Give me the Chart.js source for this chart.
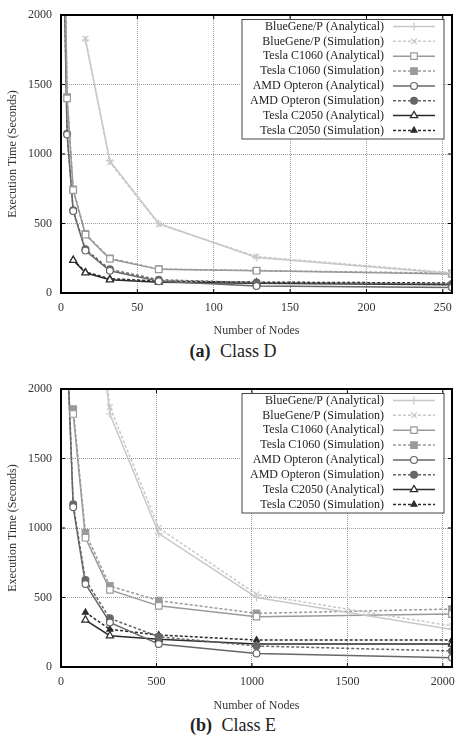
<!DOCTYPE html>
<html>
<head>
<meta charset="utf-8">
<title>Execution Time vs Number of Nodes</title>
<script src="https://cdn.jsdelivr.net/npm/chart.js"></script>
<style>
	body {
		margin: 0;
		padding: 0;
		background: #fff;
		width: 459px;
		height: 735px;
		position: relative;
		overflow: hidden;
		font-family: "Liberation Serif", serif;
	}
	.plot { position: absolute; left: 0; width: 459px; }
	#boxD { top: 0; height: 340px; }
	#boxE { top: 370px; height: 345px; }
	.caption {
		position: absolute;
		left: 0;
		width: 466px;
		text-align: center;
		font-size: 18px;
		line-height: 20px;
		color: #222;
	}
	.caption b { margin-right: 5px; }
	#capD { top: 341px; }
	#capE { top: 715px; }
</style>
</head>
<body>
	<div class="plot" id="boxD"><canvas id="chartD"></canvas></div>
	<div class="caption" id="capD"><b>(a)</b> Class D</div>
	<div class="plot" id="boxE"><canvas id="chartE"></canvas></div>
	<div class="caption" id="capE"><b>(b)</b> Class E</div>

<script>
// ---- data ----
// Class D
var nodesD     = [2, 4, 8, 16, 32, 64, 128, 256];
var bgAnaD     = [null, null, null, 1820, 950, 500, 255, 140];
var bgSimD     = [null, null, null, 1830, 940, 495, 262, 146];
var c1060AnaD  = [2800, 1400, 740, 420, 245, 170, 160, 137];
var c1060SimD  = [2820, 1410, 745, 425, 250, 172, 162, 142];
var amdAnaD    = [2280, 1140, 590, 305, 160, 85, 50, 40];
var amdSimD    = [2290, 1145, 595, 315, 170, 95, 75, 65];
var c2050AnaD  = [null, null, 235, 145, 95, 78, 70, 60];
var c2050SimD  = [null, null, 240, 152, 103, 85, 78, 72];
var xTicksD    = [0, 50, 100, 150, 200, 250];

// Class E
var nodesE     = [32, 64, 128, 256, 512, 1024, 2048];
var bgAnaE     = [null, null, 3300, 1820, 960, 500, 270];
var bgSimE     = [null, null, 3400, 1870, 1000, 523, 295];
var c1060AnaE  = [null, 1820, 930, 555, 440, 362, 381];
var c1060SimE  = [null, 1855, 965, 583, 477, 386, 417];
var amdAnaE    = [2300, 1150, 597, 320, 165, 98, 67];
var amdSimE    = [2340, 1170, 626, 350, 218, 151, 115];
var c2050AnaE  = [null, null, 338, 225, 199, 165, 165];
var c2050SimE  = [null, null, 393, 271, 230, 194, 194];
var xTicksE    = [0, 500, 1000, 1500, 2000];

var yTicks = [0, 500, 1000, 1500, 2000];

var seriesNames = [
	'BlueGene/P (Analytical)', 'BlueGene/P (Simulation)',
	'Tesla C1060 (Analytical)', 'Tesla C1060 (Simulation)',
	'AMD Opteron (Analytical)', 'AMD Opteron (Simulation)',
	'Tesla C2050 (Analytical)', 'Tesla C2050 (Simulation)'
];
var yTitle = 'Execution Time (Seconds)';
var xTitle = 'Number of Nodes';

// ---- styles ----
var styles = [
	{ color: '#c8c8c8', dash: [],     shape: 'cross',    r: 4,   fill: '#c8c8c8' },
	{ color: '#c8c8c8', dash: [3, 2], shape: 'crossRot', r: 4,   fill: '#c8c8c8' },
	{ color: '#9a9a9a', dash: [],     shape: 'rect',     r: 4.6, fill: '#fff' },
	{ color: '#9a9a9a', dash: [3, 2], shape: 'rect',     r: 4.6, fill: '#9a9a9a' },
	{ color: '#676767', dash: [],     shape: 'circle',   r: 3.4, fill: '#fff' },
	{ color: '#676767', dash: [3, 2], shape: 'circle',   r: 3.4, fill: '#676767' },
	{ color: '#2a2a2a', dash: [],     shape: 'triangle', r: 4.2, fill: '#fff' },
	{ color: '#2a2a2a', dash: [3, 2], shape: 'triangle', r: 3.4, fill: '#2a2a2a' }
];

var FONT = '"Liberation Serif", "Times New Roman", serif';

function buildDatasets(nodes, lists) {
	return lists.map(function(vals, i) {
		var s = styles[i];
		return {
			label: seriesNames[i],
			data: nodes.map(function(n, k) { return { x: n, y: vals[k] }; }),
			borderColor: s.color,
			borderWidth: 1.5,
			borderDash: s.dash,
			pointStyle: s.shape,
			pointRadius: s.r,
			pointBorderWidth: 1.2,
			pointBorderColor: s.color,
			pointBackgroundColor: s.fill,
			spanGaps: false,
			tension: 0
		};
	});
}

// frame, inward ticks and the boxed legend inside the plot
var frameLegend = {
	id: 'frameLegend',
	afterDatasetsDraw: function(chart) {
		var ctx = chart.ctx, a = chart.chartArea;
		ctx.save();

		// inward tick marks on all four sides
		ctx.strokeStyle = '#000';
		ctx.lineWidth = 1;
		chart.scales.x.ticks.forEach(function(t) {
			var px = chart.scales.x.getPixelForValue(t.value);
			ctx.beginPath();
			ctx.moveTo(px, a.bottom); ctx.lineTo(px, a.bottom - 4);
			ctx.moveTo(px, a.top); ctx.lineTo(px, a.top + 4);
			ctx.stroke();
		});
		chart.scales.y.ticks.forEach(function(t) {
			var py = chart.scales.y.getPixelForValue(t.value);
			ctx.beginPath();
			ctx.moveTo(a.left, py); ctx.lineTo(a.left + 4, py);
			ctx.moveTo(a.right, py); ctx.lineTo(a.right - 4, py);
			ctx.stroke();
		});

		// legend box
		var bx = a.right - 210.5, by = a.top + 4, bw = 202, bh = 119.5;
		ctx.fillStyle = '#fff';
		ctx.fillRect(bx, by, bw, bh);
		ctx.strokeStyle = '#444';
		ctx.lineWidth = 1;
		ctx.strokeRect(bx + 0.5, by + 0.5, bw, bh);
		ctx.font = '12px ' + FONT;
		ctx.textAlign = 'right';
		ctx.textBaseline = 'middle';
		chart.data.datasets.forEach(function(ds, i) {
			var y = by + 7.5 + i * 14.85;
			ctx.fillStyle = '#222';
			ctx.fillText(ds.label, bx + 142.5, y);
			ctx.strokeStyle = ds.borderColor;
			ctx.lineWidth = ds.borderWidth;
			ctx.setLineDash(ds.borderDash);
			ctx.beginPath();
			ctx.moveTo(bx + 151.5, y); ctx.lineTo(bx + 193.5, y);
			ctx.stroke();
			ctx.setLineDash([]);
			ctx.fillStyle = ds.pointBackgroundColor;
			ctx.strokeStyle = ds.pointBorderColor;
			ctx.lineWidth = ds.pointBorderWidth;
			Chart.helpers.drawPoint(ctx, {
				pointStyle: ds.pointStyle, radius: ds.pointRadius, rotation: 0, borderWidth: ds.pointBorderWidth
			}, bx + 172.5, y);
		});

		// plot frame
		ctx.strokeStyle = '#000';
		ctx.lineWidth = 2;
		ctx.strokeRect(a.left, a.top, a.right - a.left, a.bottom - a.top);
		ctx.restore();
	}
};

function makeChart(id, nodes, lists, xMax, xTicks, padTop, xAxisH) {
	var gridColor = function(c) {
		var v = c.tick ? c.tick.value : null;
		if (v === 0 || v === c.scale.max) return 'rgba(0,0,0,0)';
		return '#9c9c9c';
	};
	var plain = function(v) { return String(v); };
	return new Chart(document.getElementById(id).getContext('2d'), {
		type: 'line',
		data: { datasets: buildDatasets(nodes, lists) },
		options: {
			responsive: true,
			maintainAspectRatio: false,
			animation: false,
			layout: { padding: { top: padTop, right: 7, left: 0, bottom: 0 } },
			plugins: { legend: { display: false }, tooltip: { enabled: false } },
			scales: {
				x: {
					type: 'linear',
					min: 0,
					max: xMax,
					afterBuildTicks: function(s) {
						s.ticks = xTicks.map(function(v) { return { value: v }; });
					},
					afterFit: function(s) {
						s.height = xAxisH;
						s.paddingLeft = 0;
						s.paddingRight = 0;
					},
					ticks: { autoSkip: false, padding: 8, color: '#333', font: { family: FONT, size: 12 }, maxRotation: 0, callback: plain },
					grid: { color: gridColor, drawTicks: false, lineWidth: 1 },
					border: { display: false, dash: [1, 1] },
					title: { display: true, text: xTitle, color: '#333', font: { family: FONT, size: 12 }, padding: { top: 0, bottom: 2 } }
				},
				y: {
					min: 0,
					max: 2000,
					afterBuildTicks: function(s) {
						s.ticks = yTicks.map(function(v) { return { value: v }; });
					},
					afterFit: function(s) {
						s.width = 61;
						s.paddingTop = 0;
						s.paddingBottom = 0;
					},
					ticks: { autoSkip: false, padding: 9, color: '#333', font: { family: FONT, size: 12 }, callback: plain },
					grid: { color: gridColor, drawTicks: false, lineWidth: 1 },
					border: { display: false, dash: [1, 1] },
					title: { display: true, text: yTitle, color: '#333', font: { family: FONT, size: 12 }, padding: { top: 6, bottom: 0 } }
				}
			}
		},
		plugins: [frameLegend]
	});
}

makeChart('chartD', nodesD,
	[bgAnaD, bgSimD, c1060AnaD, c1060SimD, amdAnaD, amdSimD, c2050AnaD, c2050SimD],
	256, xTicksD, 15, 47);
makeChart('chartE', nodesE,
	[bgAnaE, bgSimE, c1060AnaE, c1060SimE, amdAnaE, amdSimE, c2050AnaE, c2050SimE],
	2048, xTicksE, 19, 48);
</script>
</body>
</html>
